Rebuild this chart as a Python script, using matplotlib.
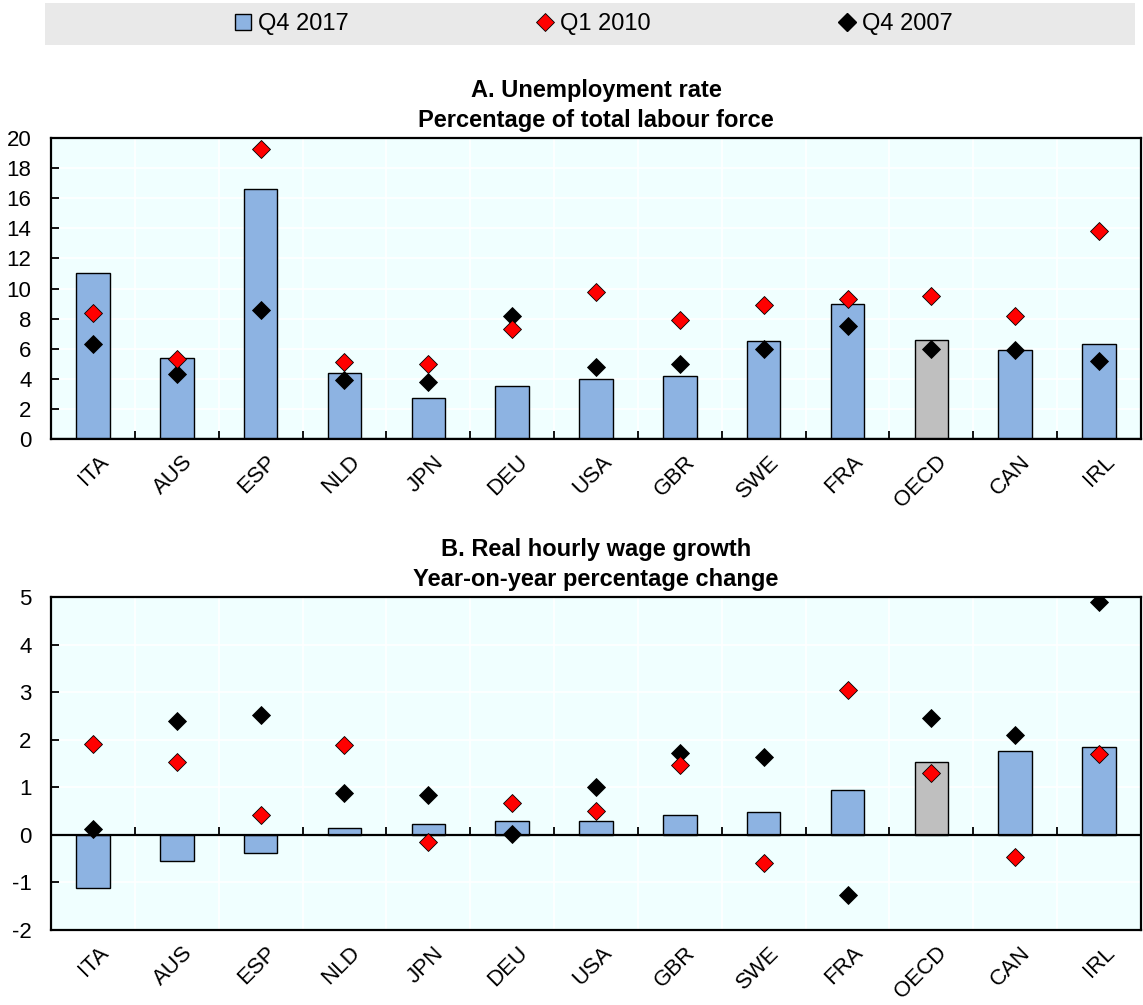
import matplotlib
matplotlib.use("Agg")
import matplotlib.pyplot as plt
import matplotlib.transforms as mtransforms
from matplotlib.lines import Line2D
from matplotlib.patches import Patch, Rectangle
import numpy as np

plt.rcParams["font.family"] = ["Liberation Sans", "DejaVu Sans"]
plt.rcParams["axes.unicode_minus"] = False

countries = ["ITA", "AUS", "ESP", "NLD", "JPN", "DEU", "USA", "GBR", "SWE", "FRA", "OECD", "CAN", "IRL"]

# Panel A: unemployment rate, % of labour force
unemp_q4_2017 = [11.0, 5.4, 16.6, 4.4, 2.7, 3.5, 4.0, 4.2, 6.5, 9.0, 6.6, 5.9, 6.3]
unemp_q1_2010 = [8.4, 5.3, 19.25, 5.1, 5.0, 7.3, 9.8, 7.9, 8.9, 9.3, 9.5, 8.2, 13.8]
unemp_q4_2007 = [6.3, 4.3, 8.6, 3.9, 3.8, 8.2, 4.8, 5.0, 6.0, 7.5, 6.0, 5.9, 5.2]

# Panel B: real hourly wage growth, y-o-y % change
wage_q4_2017 = [-1.12, -0.55, -0.39, 0.14, 0.23, 0.30, 0.30, 0.41, 0.49, 0.95, 1.54, 1.76, 1.85]
wage_q1_2010 = [1.91, 1.53, 0.42, 1.89, -0.14, 0.67, 0.51, 1.46, -0.59, 3.05, 1.29, -0.47, 1.71]
wage_q4_2007 = [0.12, 2.40, 2.53, 0.88, 0.84, 0.02, 1.01, 1.72, 1.63, -1.26, 2.45, 2.10, 4.90]

BLUE = "#8DB3E2"
GREY = "#BFBFBF"
BG = "#F0FFFF"
FS_TICK = 16
FS_XLAB = 16
FS_TITLE = 17
TICK_PX = 8

bar_colors = [GREY if c == "OECD" else BLUE for c in countries]
x = np.arange(len(countries))

W, H = 1143, 1005
fig = plt.figure(figsize=(W / 100, H / 100), dpi=100)


def px_axes(left, top, right, bottom):
    return fig.add_axes([left / W, 1 - bottom / H, (right - left) / W, (bottom - top) / H])


def draw_panel(ax, bars, red, black, ylim, step, title, height_px):
    ax.set_facecolor(BG)
    ax.bar(x, bars, width=0.4, color=bar_colors, edgecolor="black", linewidth=1.0, zorder=2)
    ax.plot(x, red, linestyle="none", marker="D", markersize=8.7, markerfacecolor="#FF0000",
            markeredgecolor="black", markeredgewidth=0.6, zorder=4)
    ax.plot(x, black, linestyle="none", marker="D", markersize=8.7, markerfacecolor="black",
            markeredgecolor="black", markeredgewidth=0.6, zorder=3)

    ax.set_xlim(-0.5, len(countries) - 0.5)
    ax.set_ylim(*ylim)
    ax.set_yticks(np.arange(ylim[0], ylim[1] + step / 2, step))
    ax.tick_params(axis="y", direction="in", length=TICK_PX * 0.72, width=1.3,
                   labelsize=FS_TICK, pad=14)

    bounds = np.arange(0.5, len(countries) - 0.5, 1.0)
    ax.set_xticks(x)
    ax.set_xticklabels(countries, rotation=45, ha="right", va="top",
                       rotation_mode="anchor", fontsize=FS_XLAB)
    ax.tick_params(axis="x", which="major", length=0, pad=9)
    shift = mtransforms.ScaledTranslation(5 / 100, 0, fig.dpi_scale_trans)
    for lab in ax.get_xticklabels():
        lab.set_transform(lab.get_transform() + shift)

    # white grid: horizontal at y ticks, vertical between categories
    for yv in ax.get_yticks():
        ax.axhline(yv, color="white", linewidth=1.2, zorder=1)
    for b in bounds:
        ax.axvline(b, color="white", linewidth=1.2, zorder=1)

    for s in ax.spines.values():
        s.set_linewidth(1.6)

    # zero line with category separator ticks pointing up
    ax.axhline(0, color="black", linewidth=1.6, zorder=2.5)
    tick_len = TICK_PX / height_px * (ylim[1] - ylim[0])
    ax.vlines(bounds, 0, tick_len, color="black", linewidth=1.3, zorder=2.5)

    ax.set_title(title, fontsize=FS_TITLE, fontweight="bold", pad=8, linespacing=1.4)


axA = px_axes(51, 138, 1141, 439)
draw_panel(axA, unemp_q4_2017, unemp_q1_2010, unemp_q4_2007, (0, 20), 2,
           "A. Unemployment rate\nPercentage of total labour force", 301)

axB = px_axes(51, 597, 1141, 930)
draw_panel(axB, wage_q4_2017, wage_q1_2010, wage_q4_2007, (-2, 5), 1,
           "B. Real hourly wage growth\nYear-on-year percentage change", 333)

# legend strip across the top
fig.patches.append(Rectangle((45 / W, 1 - 45 / H), 1090 / W, 42 / H, transform=fig.transFigure,
                             facecolor="#E9E9E9", edgecolor="none", zorder=0))
handles = [
    Patch(facecolor=BLUE, edgecolor="black", linewidth=1.0),
    Line2D([], [], linestyle="none", marker="D", markersize=9, markerfacecolor="#FF0000",
           markeredgecolor="black", markeredgewidth=0.6),
    Line2D([], [], linestyle="none", marker="D", markersize=9, markerfacecolor="black",
           markeredgecolor="black"),
]
fig.legend(handles, ["Q4 2017", "Q1 2010", "Q4 2007"], loc="center",
           bbox_to_anchor=(594 / W, 1 - 24 / H), ncol=3, frameon=False, fontsize=17,
           handlelength=0.65, handleheight=0.65, handletextpad=0.3, columnspacing=8.0)

fig.savefig("out.png", dpi=100)
